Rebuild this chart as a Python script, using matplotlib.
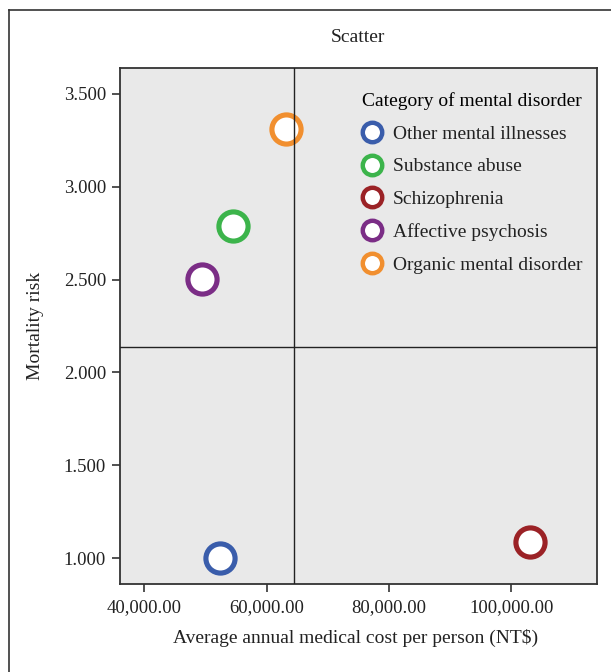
import matplotlib
matplotlib.use('Agg')
import matplotlib.pyplot as plt
from matplotlib.lines import Line2D

plt.rcParams['font.family'] = ['Liberation Serif', 'DejaVu Serif']

categories = ['Other mental illnesses', 'Substance abuse', 'Schizophrenia',
              'Affective psychosis', 'Organic mental disorder']
cost = [52400, 54500, 103000, 49500, 63200]
risk = [1.00, 2.79, 1.085, 2.505, 3.31]
colors = ['#3a5dab', '#3cb44b', '#9b2226', '#7b2d86', '#f18f2f']

xticks = [40000, 60000, 80000, 100000]
yticks = [1.0, 1.5, 2.0, 2.5, 3.0, 3.5]
ref_x = 64500
ref_y = 2.135

fig = plt.figure(figsize=(6.11, 6.72), dpi=100)
ax = fig.add_axes([120 / 611, 1 - 584 / 672, 477 / 611, 516 / 672])
ax.set_facecolor('#e9e9e9')

for c, r, col in zip(cost, risk, colors):
    ax.plot(c, r, 'o', ms=21, mfc='white', mec=col, mew=3.7, zorder=2)

# reference lines sit on top of the markers
ax.axvline(ref_x, color='#222222', lw=1.0, zorder=3)
ax.axhline(ref_y, color='#222222', lw=1.0, zorder=3)

ax.set_xlim(36080, 113960)
ax.set_ylim(0.86, 3.64)
ax.set_xticks(xticks)
ax.set_xticklabels(['{:,.2f}'.format(v) for v in xticks])
ax.set_yticks(yticks)
ax.set_yticklabels(['{:.3f}'.format(v) for v in yticks])
ax.tick_params(length=6, width=1.2, colors='#333333', labelcolor='#222222',
               labelsize=13.5, pad=4)
for s in ax.spines.values():
    s.set_color('#333333')
    s.set_linewidth(1.3)
ax.tick_params(axis='x', pad=5)

handles = [Line2D([], [], ls='none', marker='o', ms=14, mfc='white', mec=col,
                  mew=3.2) for col in colors]
leg = ax.legend(handles, categories, title='Category of mental disorder',
                loc='upper left', bbox_to_anchor=(0.479, 0.98), frameon=False,
                fontsize=14, title_fontsize=14, alignment='left',
                handlelength=1.0, handletextpad=0.6, labelspacing=0.78,
                borderpad=0.2)
for t in leg.get_texts():
    t.set_color('#222222')

fig.text(358 / 611, 1 - 38 / 672, 'Scatter', ha='center', va='center',
         fontsize=14, color='#222222')
fig.text(356 / 611, 1 - 638 / 672, 'Average annual medical cost per person (NT$)',
         ha='center', va='center', fontsize=14, color='#222222')
fig.text(35 / 611, 1 - 326 / 672, 'Mortality risk', rotation=90,
         ha='center', va='center', fontsize=14, color='#222222')

# outer frame (left and top edges)
fig.add_artist(Line2D([9 / 611, 9 / 611], [0, 1 - 10 / 672], color='#333333', lw=1.2))
fig.add_artist(Line2D([9 / 611, 1], [1 - 10 / 672, 1 - 10 / 672], color='#333333', lw=1.2))

fig.savefig('out.png', dpi=100)
